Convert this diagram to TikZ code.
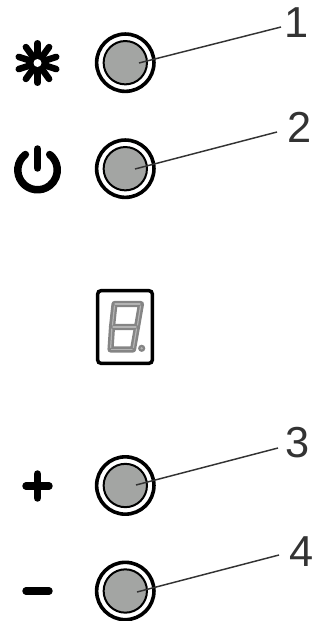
\documentclass[tikz,border=0pt]{standalone}
\usepackage{fontspec}
\setmainfont{Liberation Sans}
\usetikzlibrary{positioning,calc}
\definecolor{capgray}{HTML}{A3A5A3}
\definecolor{seggray}{HTML}{858585}
\definecolor{seglight}{HTML}{B4B4B4}
\definecolor{leader}{HTML}{333333}
\tikzset{
  btn/.style={circle, draw=black, line width=1.5pt, fill=capgray, minimum size=32.5pt,
              inner sep=0pt},
  rim/.style={circle, draw=black, line width=2.7pt, fill=white, minimum size=43pt,
              inner sep=0pt},
  num/.style={font=\fontsize{32.5pt}{33pt}\selectfont, text=leader, inner sep=0pt},
  lead/.style={draw=leader, line width=1.1pt},
  sym/.style={draw=black, line width=5.6pt, line cap=round},
  seg/.style={draw=seggray, line width=4.6pt, line cap=round, line join=round},
  seginner/.style={draw=seglight, line width=0.9pt, line cap=round},
}
\begin{document}
\begin{tikzpicture}[x=0.75pt,y=-0.75pt]
\useasboundingbox (0,0) rectangle (323,621);

\node[rim] (rim1) at (125.3,62.7) {};
\node[btn] (btn1) at (rim1) {};
\node[rim] (rim2) at (125.3,168.7) {};
\node[btn] (btn2) at (rim2) {};
\node[rim] (rim3) at (125.3,485.5) {};
\node[btn] (btn3) at (rim3) {};
\node[rim] (rim4) at (125.3,591) {};
\node[btn] (btn4) at (rim4) {};

\node[num] (lab1) at (297,23) {1};
\node[num] (lab2) at (300,127) {2};
\node[num] (lab3) at (298,443) {3};
\node[num] (lab4) at (302,552) {4};

\coordinate (tip1) at (139,63);
\coordinate (tip2) at (135,169);
\coordinate (tip3) at (136,485);
\coordinate (tip4) at (137,592);
\coordinate (end1) at (281,27);
\coordinate (end2) at (277,132);
\coordinate (end3) at (278,448);
\coordinate (end4) at (279,555);
\draw[lead] (tip1) -- (end1);
\draw[lead] (tip2) -- (end2);
\draw[lead] (tip3) -- (end3);
\draw[lead] (tip4) -- (end4);

% symbols
\foreach \a in {0,36,...,324}
  \draw[sym, line width=4.9pt] (37.5,63) ++(90+\a:5) -- ++(90+\a:14.7);
\fill[black] (37.5,63) circle[radius=7.5pt];
\fill[white] (37.5,63) circle[radius=3pt];
\draw[sym] (25.4,154.5) arc[start angle=-232, end angle=52, radius=14.8pt];
\draw[sym] (37.5,149) -- (37.5,168);
\draw[sym] (26,486) -- (49,486);
\draw[sym] (37.5,474) -- (37.5,498);
\draw[sym] (26,591) -- (49,591);

% display
\node[draw=black, line width=2.6pt, rounded corners=2.5pt, minimum width=41pt, minimum height=54.5pt,
      inner sep=0pt] (disp) at (125,327) {};
\draw[seg] (114.5,304) -- (141,304) -- (137,327) -- (112,327) -- cycle;
\draw[seg] (112,327) -- (110.5,349.5) -- (133,349.5) -- (137,327);
\draw[seginner] (115,304) -- (140,304);
\draw[seginner] (113,327) -- (136,327);
\draw[seginner] (111.5,349.5) -- (132,349.5);
\draw[seginner] (114.5,306) -- (112.5,325);
\draw[seginner] (140.5,306) -- (137.5,325);
\draw[seginner] (111.8,329) -- (110.7,347.5);
\draw[seginner] (136.5,329) -- (133.4,347.5);
\fill[seggray] (141.7,348.3) circle[radius=2.7pt];
\fill[seglight] (141.7,348.3) circle[radius=1pt];
\end{tikzpicture}
\end{document}
